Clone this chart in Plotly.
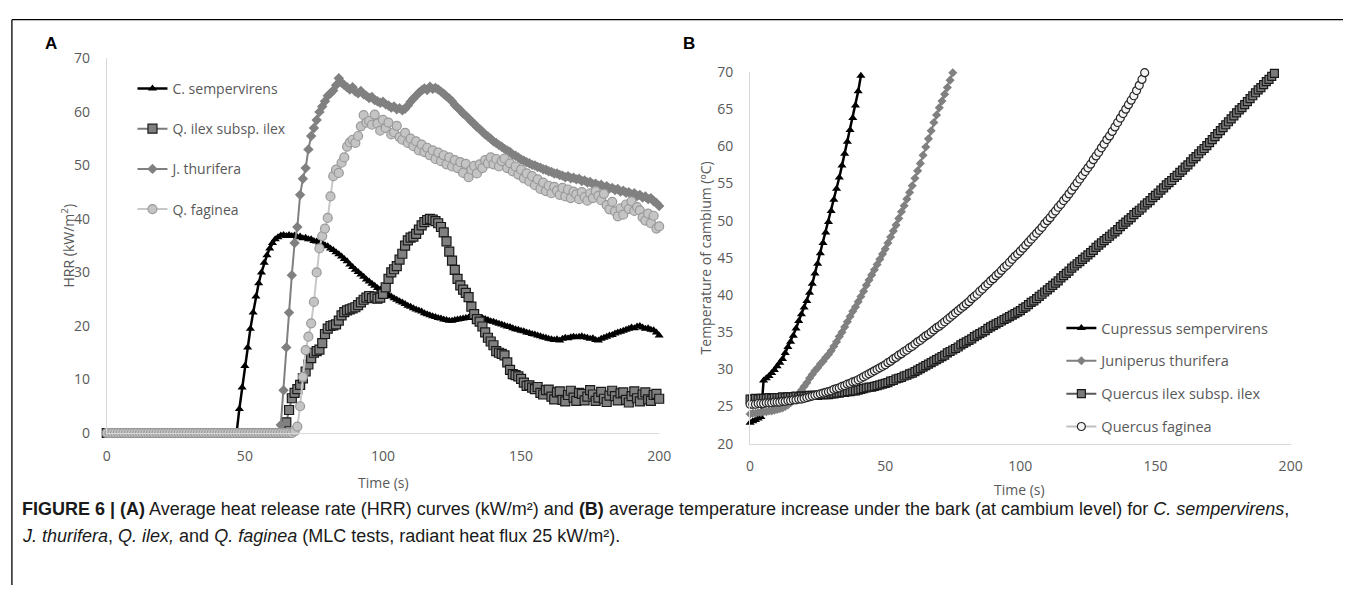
import plotly.graph_objects as go

# ---------------- Panel A: HRR (kW/m2) vs time, 1 s steps ----------------
TIME_A = list(range(0, 201))

C_SEMP_A = [
    0, 0, 0, 0, 0, 0, 0, 0, 0, 0,
    0, 0, 0, 0, 0, 0, 0, 0, 0, 0,
    0, 0, 0, 0, 0, 0, 0, 0, 0, 0,
    0, 0, 0, 0, 0, 0, 0, 0, 0, 0,
    0, 0, 0, 0, 0, 0, 0, 0, 4.5, 8.5,
    12.5, 16, 19.5, 22.5, 25.5, 28, 30, 31.8, 33.2, 34.5,
    35.5, 36.2, 36.6, 36.9, 37, 36.8, 37, 36.8, 36.9, 36.6,
    36.7, 36.4, 36.5, 36.2, 36.2, 35.9, 35.8, 35.6, 35.4, 35.1,
    34.9, 34.5, 34.2, 33.8, 33.4, 33, 32.5, 32.1, 31.5, 31,
    30.5, 30.1, 29.6, 29.2, 28.7, 28.3, 27.9, 27.5, 27.1, 26.8,
    26.4, 26.1, 25.8, 25.5, 25.2, 24.9, 24.6, 24.4, 24.1, 23.8,
    23.6, 23.3, 23.1, 22.9, 22.7, 22.4, 22.2, 22, 21.8, 21.7,
    21.5, 21.4, 21.2, 21.1, 21, 21, 21.1, 21.2, 21.3, 21.4,
    21.5, 21.6, 21.5, 21.7, 21.6, 21.4, 21.5, 21.3, 21.1, 20.9,
    20.8, 20.6, 20.4, 20.3, 20.1, 19.9, 19.8, 19.6, 19.4, 19.3,
    19.1, 19, 18.8, 18.7, 18.5, 18.4, 18.2, 18.1, 17.9, 17.8,
    17.6, 17.5, 17.4, 17.5, 17.3, 17.6, 17.8, 17.7, 17.9, 18,
    17.9, 18, 18.1, 17.9, 17.8, 17.6, 17.7, 17.4, 17.3, 17.6,
    17.8, 18, 18.2, 18.3, 18.6, 18.8, 18.9, 19.1, 19.3, 19.5,
    19.7, 19.6, 19.9, 20, 19.7, 19.5, 19.6, 19.3, 19.2, 18.8,
    18.2,
]

Q_ILEX_A = [
    0, 0, 0, 0, 0, 0, 0, 0, 0, 0,
    0, 0, 0, 0, 0, 0, 0, 0, 0, 0,
    0, 0, 0, 0, 0, 0, 0, 0, 0, 0,
    0, 0, 0, 0, 0, 0, 0, 0, 0, 0,
    0, 0, 0, 0, 0, 0, 0, 0, 0, 0,
    0, 0, 0, 0, 0, 0, 0, 0, 0, 0,
    0, 0, 0, 0, 0, 2, 4.3, 6.5, 7.5, 8.2,
    9, 10.2, 11.5, 12.8, 14, 15, 15.3, 15.6, 16.8, 18.5,
    19.5, 20, 20.1, 20.3, 21, 22, 22.6, 22.9, 23.1, 23.3,
    23.5, 23.9, 24.4, 24.9, 25.3, 25.6, 25.2, 25.5, 25.1, 25.3,
    26, 27.2, 28.8, 30, 30.6, 31.2, 32.4, 33.5, 35, 36,
    36.5, 36.7, 37.2, 38, 38.8, 39.4, 39.8, 40, 39.9, 39.6,
    39.2, 38.5, 37.5, 35.8, 33.9, 32.2, 30.5, 28.8, 27.6, 26.8,
    26.2, 25.4, 23.6, 22.2, 21.3, 20.8, 19.9, 18.8, 17.8, 17.1,
    16.4, 15.3, 15, 14.8, 14.5, 13.2, 11.8, 11, 10.8, 10.6,
    10.1, 9.4, 8.8, 8.9, 8.5, 8.2, 8.6, 7.5, 7.2, 8,
    8.1, 6.8, 6.3, 7.6, 7.8, 6.2, 5.9, 7.1, 7.9, 6.6,
    6, 7.5, 7.3, 6.1, 6.8, 8, 7.2, 6, 6.6, 7.7,
    6.4, 5.8, 7, 7.9, 6.9, 6.1, 7.4, 7.6, 6.2, 5.7,
    6.9, 7.8, 6.5, 5.9, 7.2, 7.6, 6.3, 6, 7.1, 7.3,
    6.4,
]

J_THUR_A = [
    0, 0, 0, 0, 0, 0, 0, 0, 0, 0,
    0, 0, 0, 0, 0, 0, 0, 0, 0, 0,
    0, 0, 0, 0, 0, 0, 0, 0, 0, 0,
    0, 0, 0, 0, 0, 0, 0, 0, 0, 0,
    0, 0, 0, 0, 0, 0, 0, 0, 0, 0,
    0, 0, 0, 0, 0, 0, 0, 0, 0, 0,
    0, 0, 0, 1.5, 8, 16, 22.5, 29.5, 35.5, 38.5,
    44.5, 47.5, 49.5, 53, 55.5, 57, 58.5, 60, 61, 62,
    63, 63.5, 64, 65, 66.3, 65.5, 65, 64.6, 64.2, 64.6,
    63.8, 63.5, 63.9, 63.3, 63, 62.6, 62.8, 62.2, 62, 61.7,
    61.9, 61.4, 61.2, 60.8, 61, 60.5, 60.7, 60.3, 60.6, 61.2,
    61.9, 62.5, 63, 63.6, 64, 64.4, 64.1, 64.7, 64.3, 64.5,
    64.2, 63.8, 63.4, 62.9, 62.5, 62, 61.3, 60.8, 60.3, 59.7,
    59.3, 58.8, 58.2, 57.8, 57.2, 56.8, 56.3, 55.8, 55.4, 55,
    54.5, 54.2, 53.8, 53.5, 53.1, 52.8, 52.5, 52, 51.8, 51.5,
    51.1, 50.9, 50.6, 50.4, 50.1, 50, 49.7, 49.6, 49.3, 49.2,
    48.9, 48.8, 48.5, 48.5, 48.2, 48.1, 47.8, 48, 47.6, 47.7,
    47.4, 47.5, 47.1, 47.2, 46.8, 46.9, 46.5, 46.6, 46.2, 46.4,
    45.9, 46.1, 45.7, 45.8, 45.4, 45.6, 45.1, 45.3, 44.9, 45,
    44.6, 44.8, 44.3, 44.5, 44, 44.2, 43.7, 43.9, 43.3, 43,
    42.4,
]

Q_FAG_A = [
    0, 0, 0, 0, 0, 0, 0, 0, 0, 0,
    0, 0, 0, 0, 0, 0, 0, 0, 0, 0,
    0, 0, 0, 0, 0, 0, 0, 0, 0, 0,
    0, 0, 0, 0, 0, 0, 0, 0, 0, 0,
    0, 0, 0, 0, 0, 0, 0, 0, 0, 0,
    0, 0, 0, 0, 0, 0, 0, 0, 0, 0,
    0, 0, 0, 0, 0, 0, 0, 0, 0.3, 1.2,
    5, 10.5, 15.5, 18, 20.5, 24.5, 30, 34.5, 36.8, 38.2,
    40.2, 44.2, 48, 49.2, 48.6, 50.5, 51.5, 53.5, 54.3, 54.8,
    54.2, 55.5, 57.3, 59.4, 58, 58.3, 57.6, 59.5, 57.8, 56.5,
    58.5, 57, 58, 55.8, 56.2, 57.4, 55.3, 54.8, 56.1, 54.2,
    55, 53.6, 54.5, 52.8, 53.9, 52.5, 53.3, 51.9, 52.8, 51.2,
    52.4, 50.8, 51.9, 50.2, 51.5, 49.8, 51, 49.5, 50.6, 48.6,
    50.3, 47.8, 49.2, 49.9, 48.5, 50.2, 49.5, 51, 50.4, 51.5,
    50.2, 51.2, 49.8, 50.8, 51.3, 49.5, 50.4, 48.9, 49.8, 48.3,
    49.2, 47.6, 48.5, 47, 48, 46.3, 47.4, 45.6, 46.8, 45.2,
    46.2, 44.8, 46, 45.3, 44.5, 45.8, 44.2, 45.5, 43.9, 45.1,
    44.6, 43.7, 45, 44.1, 43.4, 44.8, 43.9, 45.2, 44.3, 43.5,
    44.7, 42.6, 41.8, 43.2, 41.4, 40.5, 42, 40.8, 42.7, 41.9,
    43.3, 41.5, 42.2, 41.6, 40.3, 39.7, 41, 39.2, 40.6, 38.2,
    38.6,
]

# ---------------- Panel B: cambium temperature (ºC) vs time ----------------
C_SEMP_B = [
    22.8, 23, 23.2, 23.4, 23.6, 28.5, 28.8, 29.1, 29.5, 29.9,
    30.4, 30.9, 31.4, 32.2, 33, 33.7, 34.5, 35.5, 36.5, 37.4,
    38.3, 39.2, 40.3, 41.5, 42.9, 44.2, 45.6, 47, 48.4, 49.8,
    51.3, 52.8, 54.3, 55.8, 57.4, 59, 60.6, 62.2, 63.8, 65.5,
    67.4, 69.5,
]

J_THUR_B = [
    24, 24.1, 24.1, 24.2, 24.2, 24.3, 24.3, 24.4, 24.4, 24.5,
    24.6, 24.7, 24.8, 25, 25.2, 25.5, 25.8, 26.2, 26.7, 27.2,
    27.7, 28.2, 28.8, 29.3, 29.8, 30.2, 30.7, 31.1, 31.6, 32,
    32.5, 33.1, 33.7, 34.4, 35, 35.7, 36.4, 37.1, 37.8, 38.4,
    39.1, 39.8, 40.5, 41.3, 42, 42.7, 43.4, 44.1, 44.8, 45.5,
    46.2, 47, 47.8, 48.6, 49.4, 50.3, 51.2, 52, 52.9, 53.8,
    54.7, 55.7, 56.7, 57.7, 58.8, 59.9, 61, 62.1, 63.2, 64.2,
    65.2, 66.1, 67, 67.9, 68.9, 69.9,
]

Q_ILEX_B = [
    26.0, 26.0, 26.1, 26.0, 26.1, 26.1, 26.1, 26.2, 26.1, 26.2,
    26.2, 26.2, 26.3, 26.2, 26.3, 26.3, 26.3, 26.4, 26.3, 26.4,
    26.4, 26.4, 26.5, 26.5, 26.5, 26.5, 26.6, 26.6, 26.6, 26.6,
    26.7, 26.7, 26.8, 26.8, 26.9, 26.9, 27.0, 27.0, 27.1, 27.1,
    27.2, 27.3, 27.4, 27.5, 27.6, 27.6, 27.7, 27.8, 27.9, 28.0,
    28.1, 28.2, 28.4, 28.5, 28.7, 28.8, 28.9, 29.1, 29.2, 29.4,
    29.5, 29.7, 29.9, 30.1, 30.3, 30.5, 30.7, 30.9, 31.1, 31.3,
    31.5, 31.7, 31.9, 32.2, 32.4, 32.6, 32.8, 33.0, 33.3, 33.5,
    33.7, 33.9, 34.1, 34.4, 34.6, 34.8, 35.0, 35.2, 35.5, 35.7,
    35.9, 36.1, 36.3, 36.5, 36.7, 36.9, 37.1, 37.3, 37.5, 37.7,
    37.9, 38.2, 38.4, 38.7, 39.0, 39.2, 39.5, 39.8, 40.1, 40.4,
    40.7, 41.0, 41.3, 41.6, 41.9, 42.3, 42.6, 42.9, 43.2, 43.6,
    43.9, 44.2, 44.5, 44.8, 45.1, 45.4, 45.7, 46.0, 46.4, 46.7,
    47.0, 47.3, 47.6, 47.9, 48.2, 48.5, 48.8, 49.2, 49.5, 49.8,
    50.1, 50.4, 50.8, 51.1, 51.4, 51.7, 52.1, 52.4, 52.7, 53.1,
    53.4, 53.7, 54.1, 54.4, 54.8, 55.1, 55.4, 55.8, 56.1, 56.5,
    56.8, 57.2, 57.5, 57.9, 58.3, 58.6, 59.0, 59.4, 59.7, 60.1,
    60.5, 60.9, 61.3, 61.7, 62.1, 62.5, 62.9, 63.3, 63.7, 64.1,
    64.5, 64.9, 65.2, 65.6, 66.0, 66.4, 66.8, 67.2, 67.6, 67.9,
    68.3, 68.7, 69.0, 69.4, 69.8,
]

Q_FAG_B = [
    25.3, 25.3, 25.3, 25.4, 25.4, 25.4, 25.5, 25.5, 25.5, 25.6,
    25.6, 25.6, 25.7, 25.7, 25.8, 25.8, 25.9, 25.9, 26, 26,
    26.1, 26.2, 26.3, 26.4, 26.5, 26.6, 26.7, 26.8, 26.9, 27,
    27.1, 27.3, 27.4, 27.5, 27.7, 27.8, 28, 28.1, 28.3, 28.4,
    28.6, 28.8, 29, 29.2, 29.4, 29.6, 29.8, 30, 30.2, 30.4,
    30.6, 30.9, 31.1, 31.4, 31.6, 31.9, 32.1, 32.4, 32.6, 32.9,
    33.1, 33.4, 33.7, 33.9, 34.2, 34.5, 34.7, 35, 35.3, 35.6,
    35.8, 36.1, 36.4, 36.7, 37, 37.3, 37.6, 37.9, 38.2, 38.5,
    38.8, 39.1, 39.5, 39.8, 40.1, 40.5, 40.8, 41.2, 41.5, 41.9,
    42.2, 42.6, 42.9, 43.3, 43.7, 44, 44.4, 44.8, 45.2, 45.5,
    45.9, 46.3, 46.7, 47.1, 47.5, 47.9, 48.3, 48.7, 49.1, 49.6,
    50, 50.4, 50.9, 51.3, 51.8, 52.2, 52.7, 53.1, 53.6, 54.1,
    54.6, 55.1, 55.6, 56.1, 56.6, 57.1, 57.6, 58.2, 58.7, 59.2,
    59.8, 60.3, 60.9, 61.4, 62, 62.6, 63.2, 63.8, 64.4, 65,
    65.6, 66.2, 66.8, 67.5, 68.2, 69, 69.9,
]

TIME_B_CS = list(range(len(C_SEMP_B)))
TIME_B_JT = list(range(len(J_THUR_B)))
TIME_B_QI = list(range(len(Q_ILEX_B)))
TIME_B_QF = list(range(len(Q_FAG_B)))

NAMES_A = ["C. sempervirens", "Q. ilex subsp. ilex", "J. thurifera", "Q. faginea"]
NAMES_B = ["Cupressus sempervirens", "Juniperus thurifera",
           "Quercus ilex subsp. ilex", "Quercus faginea"]

X_TICKS = [0, 50, 100, 150, 200]
Y_TICKS_A = [0, 10, 20, 30, 40, 50, 60, 70]
Y_TICKS_B = [20, 25, 30, 35, 40, 45, 50, 55, 60, 65, 70]

W, H = 1355, 594
def px(x):
    return x / W
def py(y):
    return 1 - y / H

TICK_GRAY = "#595959"
AXIS_GRAY = "#d9d9d9"
FONT = "Open Sans"

fig = go.Figure()

def add(x, y, name, xa, ya, leg, grp, symbol, msize, mcolor, mline_c, mline_w, lcolor, lwidth):
    fig.add_trace(go.Scatter(
        x=x, y=y, name=name, mode="lines+markers",
        xaxis=xa, yaxis=ya, legend=leg, legendgroup=grp,
        line=dict(color=lcolor, width=lwidth),
        marker=dict(symbol=symbol, size=msize, color=mcolor,
                    line=dict(color=mline_c, width=mline_w)),
        cliponaxis=False, hoverinfo="x+y+name",
    ))

# Panel A traces (legend order)
add(TIME_A, C_SEMP_A, NAMES_A[0], "x", "y", "legend", "a1",
    "triangle-up", 8, "#000000", "#000000", 0, "#000000", 2.5)
add(TIME_A, Q_ILEX_A, NAMES_A[1], "x", "y", "legend", "a2",
    "square", 9, "#808080", "#1a1a1a", 1.2, "#7a7a7a", 2)
add(TIME_A, J_THUR_A, NAMES_A[2], "x", "y", "legend", "a3",
    "diamond", 8, "#808080", "#808080", 0, "#808080", 2)
add(TIME_A, Q_FAG_A, NAMES_A[3], "x", "y", "legend", "a4",
    "circle", 9, "#c4c4c4", "#999999", 1.2, "#c8c8c8", 2)

# Panel B traces
add(TIME_B_CS, C_SEMP_B, NAMES_B[0], "x2", "y2", "legend2", "b1",
    "triangle-up", 8, "#000000", "#000000", 0, "#000000", 2.5)
add(TIME_B_JT, J_THUR_B, NAMES_B[1], "x2", "y2", "legend2", "b2",
    "diamond", 7, "#808080", "#808080", 0, "#808080", 2)
add(TIME_B_QI, Q_ILEX_B, NAMES_B[2], "x2", "y2", "legend2", "b3",
    "square", 8, "#7a7a7a", "#1a1a1a", 1.2, "#595959", 2)
add(TIME_B_QF, Q_FAG_B, NAMES_B[3], "x2", "y2", "legend2", "b4",
    "circle", 8, "#f4f4f4", "#262626", 1.2, "#bfbfbf", 2)

axis_common = dict(showgrid=False, zeroline=False, showline=True,
                   linecolor=AXIS_GRAY, linewidth=1, ticks="outside",
                   tickcolor="rgba(0,0,0,0)",
                   tickfont=dict(family=FONT, size=14, color=TICK_GRAY))

fig.update_layout(
    width=W, height=H, margin=dict(l=0, r=0, t=0, b=0),
    paper_bgcolor="white", plot_bgcolor="white",
    font=dict(family=FONT, color=TICK_GRAY),
    xaxis=dict(domain=[px(104), px(663)], range=[0, 200], tickvals=X_TICKS,
               anchor="y", ticklen=10, **axis_common),
    yaxis=dict(domain=[py(437), py(50)], range=[0, 70], tickvals=Y_TICKS_A,
               anchor="x", ticklen=13, **axis_common),
    xaxis2=dict(domain=[px(755), px(1302)], range=[0, 200], tickvals=X_TICKS,
                anchor="y2", ticklen=10, **axis_common),
    yaxis2=dict(domain=[py(448), py(64)], range=[20, 70], tickvals=Y_TICKS_B,
                anchor="x2", ticklen=13, **axis_common),
    legend=dict(x=px(130), y=py(65), xanchor="left", yanchor="top",
                bgcolor="rgba(0,0,0,0)", tracegroupgap=19,
                font=dict(family=FONT, size=14, color=TICK_GRAY)),
    legend2=dict(x=px(1070), y=py(312), xanchor="left", yanchor="top",
                 bgcolor="rgba(0,0,0,0)", tracegroupgap=11,
                 font=dict(family=FONT, size=14.5, color=TICK_GRAY)),
)

ann = []
def note(text, x, y, size, color, family=FONT, xanchor="center", yanchor="middle", **kw):
    ann.append(dict(text=text, x=px(x), y=py(y), xref="paper", yref="paper",
                    xanchor=xanchor, yanchor=yanchor, showarrow=False, borderpad=0,
                    font=dict(family=family, size=size, color=color), **kw))

note("<b>A</b>", 48, 35, 17, "#000000", family="Liberation Sans")
note("<b>B</b>", 693, 35, 17, "#000000", family="Liberation Sans")
note("HRR (kW/m<sup>2</sup>)", 65, 243, 14, TICK_GRAY, textangle=-90)
note("Temperature of cambium (ºC)", 710, 256, 14, TICK_GRAY, textangle=-90)
note("Time (s)", 384, 488, 14, TICK_GRAY)
note("Time (s)", 1028, 495, 14, TICK_GRAY)
note("<b>FIGURE 6 | (A)</b> Average heat release rate (HRR) curves (kW/m²) and "
     "<b>(B)</b> average temperature increase under the bark (at cambium level) for "
     "<i>C. sempervirens</i>,", 17, 515, 18, "#1a1a1a",
     family="Liberation Sans", xanchor="left")
note("<i>J. thurifera</i>, <i>Q. ilex,</i> and <i>Q. faginea</i> (MLC tests, radiant heat flux 25 kW/m²).",
     17, 543, 18, "#1a1a1a", family="Liberation Sans", xanchor="left")

fig.update_layout(annotations=ann)

# thin frame: left and top border
fig.update_layout(shapes=[
    dict(type="line", xref="paper", yref="paper", x0=px(8), x1=px(8), y0=0, y1=py(10),
         line=dict(color="#000000", width=1.3)),
    dict(type="line", xref="paper", yref="paper", x0=px(8), x1=1, y0=py(10), y1=py(10),
         line=dict(color="#000000", width=1.3)),
])

fig.write_html("out.html")
